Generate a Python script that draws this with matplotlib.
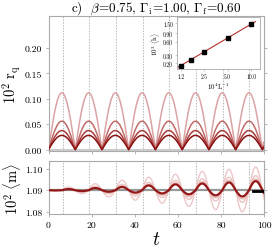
import numpy as np
import matplotlib
matplotlib.use('Agg')
import matplotlib.pyplot as plt

plt.rcParams['font.family'] = 'serif'
plt.rcParams['font.serif'] = ['cmr10']
plt.rcParams['mathtext.fontset'] = 'cm'
plt.rcParams['axes.formatter.use_mathtext'] = True

# ---- data ----
period = 12.4                       # oscillation period in t
# one arch of the curves (normalised)
arch = [0, 0.13, 0.26, 0.38, 0.50, 0.61, 0.71, 0.79, 0.87, 0.92, 0.97, 0.99, 1.0,
        0.99, 0.97, 0.92, 0.87, 0.79, 0.71, 0.61, 0.50, 0.38, 0.26, 0.13, 0]
r_peak = [0.112, 0.056, 0.0375, 0.028]          # peak of each r_q curve
# <m> : downward / upward excursion from 1.09 in each period
m_base = 1.09
m_trough = [
    [0.0002, 0.0016, 0.0031, 0.0046, 0.0060, 0.0075, 0.0090, 0.0100, 0.0105],
    [0.0001, 0.0009, 0.0017, 0.0026, 0.0034, 0.0042, 0.0050, 0.0056, 0.0060],
    [0.0001, 0.0006, 0.0011, 0.0017, 0.0023, 0.0029, 0.0035, 0.0040, 0.0043],
    [0.0001, 0.0004, 0.0007, 0.0011, 0.0015, 0.0019, 0.0024, 0.0029, 0.0032],
]
m_peak = [
    [0.0015, 0.0030, 0.0046, 0.0060, 0.0074, 0.0087, 0.0097, 0.0107, 0.0110],
    [0.0009, 0.0018, 0.0027, 0.0036, 0.0045, 0.0053, 0.0060, 0.0067, 0.0070],
    [0.0007, 0.0013, 0.0020, 0.0027, 0.0034, 0.0040, 0.0046, 0.0052, 0.0055],
    [0.0005, 0.0010, 0.0015, 0.0022, 0.0027, 0.0031, 0.0036, 0.0042, 0.0045],
]
dash_t = [6.5, 18.9, 31.3, 43.7, 56.1, 68.4, 80.8, 93.2]
avg_t = [94.8, 100]
avg_m = [1.0898, 1.0898]
# inset
inv_L = [1.25, 1.67, 2.5, 5.0, 10.0]
h_val = [0.18, 0.24, 0.36, 0.72, 1.44]
fit_x = [1.12, 11.3]
fit_y = [0.161, 1.63]

col_top = [(0.86, 0.64, 0.64), (0.76, 0.42, 0.42), (0.66, 0.24, 0.24), (0.55, 0.07, 0.07)]
col_bot = [(0.93, 0.78, 0.78), (0.92, 0.76, 0.76), (0.90, 0.72, 0.72), (0.58, 0.09, 0.09)]
lw_bot = [1.0, 1.0, 1.0, 1.6]
spine_c = '#aaaaaa'

# build curves from the tables
n_half = len(arch) - 1
t_top = np.arange(9 * n_half + 1) * period / n_half
shape_top = np.append(np.tile(arch[:-1], 9), 0.0)
keep_top = t_top <= 100

half = []
for k in range(9):
    half.append((-1, k))
    half.append((1, k))
t_bot = np.arange(18 * n_half + 1) * period / (2 * n_half)
keep_bot = t_bot <= 100

fig = plt.figure(figsize=(2.78, 2.51), dpi=100)
ax1 = fig.add_axes([0.1745, 0.394, 0.7755, 0.538])
ax2 = fig.add_axes([0.1745, 0.1434, 0.7755, 0.2112])

for ax in (ax1, ax2):
    for s in ax.spines.values():
        s.set_color(spine_c)
        s.set_linewidth(0.8)
    ax.tick_params(colors=spine_c, labelcolor='black', labelsize=7, length=2.5, width=0.6,
                   pad=2, right=True, direction='out')
    for tt in dash_t:
        ax.axvline(tt, color='#999999', ls=(0, (2, 2)), lw=0.5, zorder=0)
    ax.set_xlim(0, 100)

ax1.axhline(0, color='#cccccc', lw=2.2, zorder=1)
for i, pk in enumerate(r_peak):
    ax1.plot(t_top[keep_top], pk * shape_top[keep_top], color=col_top[i], lw=1.1, zorder=2 + i)
ax1.set_ylim(-0.003, 0.263)
ax1.set_yticks([0.00, 0.05, 0.10, 0.15, 0.20])
ax1.set_yticklabels(['0.00', '0.05', '0.10', '0.15', '0.20'])
ax1.set_xticks([0, 20, 40, 60, 80, 100])
ax1.set_xticklabels([])
ax1.set_ylabel(r'$10^2\ \mathrm{r_q}$', fontsize=10.5)
ax1.yaxis.set_label_coords(-0.118, 0.5)
ax1.set_title(r'c)  $\beta$=0.75, $\Gamma_\mathrm{i}$=1.00, $\Gamma_\mathrm{f}$=0.60', fontsize=9.5, pad=3)

ax2.axhline(m_base, color='#999999', lw=1.6, zorder=1)
for i in range(4):
    vals = []
    for j, (sgn, k) in enumerate(half):
        amp = m_peak[i][k] if sgn > 0 else m_trough[i][k]
        seg = np.array(arch[:-1]) * amp * sgn
        vals.extend(seg)
    vals.append(0.0)
    m = m_base + np.array(vals)
    ax2.plot(t_bot[keep_bot], m[keep_bot], color=col_bot[i], lw=lw_bot[i], zorder=2 + i)
ax2.plot(avg_t, avg_m, color='black', lw=2.0, zorder=10)
ax2.set_ylim(1.079, 1.1035)
ax2.set_yticks([1.08, 1.09, 1.10])
ax2.set_yticklabels(['1.08', '1.09', '1.10'])
ax2.set_xticks([0, 20, 40, 60, 80, 100])
ax2.set_xticklabels(['0', '20', '40', '60', '80', '100'])
ax2.set_ylabel(r'$10^2\ \langle\mathrm{m}\rangle$', fontsize=10.5)
ax2.yaxis.set_label_coords(-0.118, 0.5)
ax2.set_xlabel(r'$t$', fontsize=14, labelpad=1)

# inset
ax3 = fig.add_axes([0.637, 0.721, 0.2986, 0.207])
ax3.set_xscale('log')
ax3.set_yscale('log')
ax3.plot(fit_x, fit_y, color=(0.72, 0.18, 0.18), lw=0.8)
ax3.plot(inv_L, h_val, 's', color='black', ms=2.2)
ax3.set_xlim(1.12, 13.0)
ax3.set_ylim(0.151, 2.05)
ax3.minorticks_off()
ax3.set_xticks([1.25, 2.5, 5.0, 10.0])
ax3.set_xticklabels(['1.2', '2.5', '5.0', '10.0'])
ax3.set_yticks([0.2, 0.3, 0.6, 0.9, 1.5])
ax3.set_yticklabels(['0.20', '0.30', '0.60', '0.90', '1.50'])
for s in ax3.spines.values():
    s.set_color(spine_c)
    s.set_linewidth(0.6)
ax3.tick_params(colors=spine_c, labelcolor='black', labelsize=4, length=1.5, width=0.4, pad=1.5)
ax3.set_xlabel(r'$10^4\mathrm{L}^{-1}$', fontsize=5, labelpad=1)
ax3.set_ylabel(r'$10^3\ \langle\mathrm{h}\rangle$', fontsize=5, labelpad=1)

fig.savefig('out.png', dpi=100)
